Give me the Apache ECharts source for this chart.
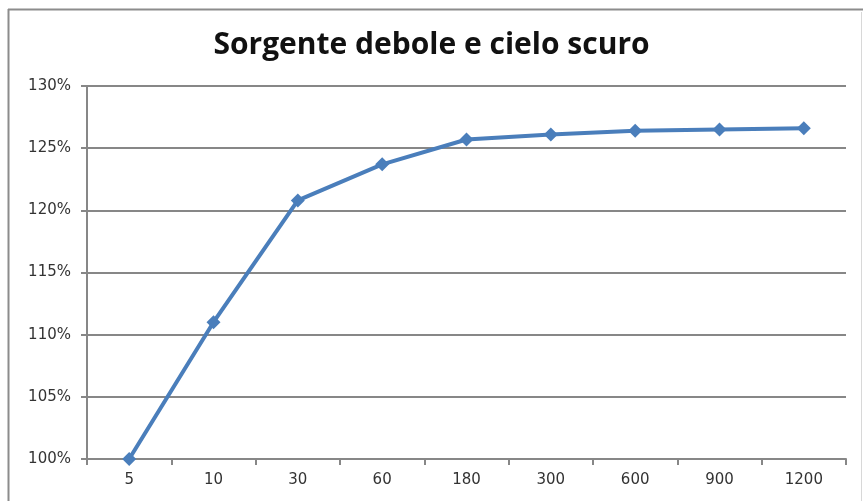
<!DOCTYPE html>
<html>
<head>
<meta charset="utf-8">
<script src="https://cdn.jsdelivr.net/npm/echarts@6/dist/echarts.min.js"></script>
<style>html,body{margin:0;padding:0;background:#fff;}#c{width:863px;height:501px;}</style>
</head>
<body>
<div id="c"></div>
<script>
const titleText = 'Sorgente debole e cielo scuro';
const categories = ['5', '10', '30', '60', '180', '300', '600', '900', '1200'];
const values = [100.0, 111.0, 120.8, 123.7, 125.7, 126.1, 126.4, 126.5, 126.6];
const yMin = 100, yMax = 130, yStep = 5;

const chart = echarts.init(document.getElementById('c'), null, {renderer: 'canvas'});
const gray = '#878787';
chart.setOption({
  animation: false,
  backgroundColor: '#fff',
  graphic: [
    {type: 'line', shape: {x1: 8, y1: 9.5, x2: 863, y2: 9.5}, style: {stroke: '#8c8c8c', lineWidth: 2}, silent: true},
    {type: 'line', shape: {x1: 8.5, y1: 9, x2: 8.5, y2: 501}, style: {stroke: '#8c8c8c', lineWidth: 2}, silent: true},
    {type: 'line', shape: {x1: 861.5, y1: 12, x2: 861.5, y2: 501}, style: {stroke: '#d8d8d8', lineWidth: 1}, silent: true}
  ],
  title: {
    text: titleText,
    left: 'center',
    top: 25,
    textStyle: {fontFamily: 'Open Sans', fontWeight: 'bold', fontSize: 30, color: '#111'}
  },
  grid: {left: 87, right: 17, top: 86, bottom: 42, containLabel: false},
  xAxis: {
    type: 'category',
    data: categories,
    boundaryGap: true,
    axisLine: {show: true, lineStyle: {color: gray, width: 2}},
    axisTick: {show: true, length: 6, lineStyle: {color: gray, width: 2}},
    axisLabel: {fontFamily: 'DejaVu Sans', fontSize: 15, color: '#333', margin: 14},
    splitLine: {show: false}
  },
  yAxis: {
    type: 'value',
    min: yMin, max: yMax, interval: yStep,
    axisLine: {show: true, lineStyle: {color: gray, width: 2}},
    axisTick: {show: true, length: 6, lineStyle: {color: gray, width: 2}},
    axisLabel: {formatter: '{value}%', fontFamily: 'DejaVu Sans', fontSize: 15, color: '#333', margin: 16},
    splitLine: {show: true, lineStyle: {color: gray, width: 2}}
  },
  series: [{
    type: 'line',
    data: values,
    symbol: 'diamond',
    symbolSize: 14,
    lineStyle: {color: '#4a7ebb', width: 4},
    itemStyle: {color: '#4a7ebb'},
    z: 5
  }]
});
</script>
</body>
</html>
